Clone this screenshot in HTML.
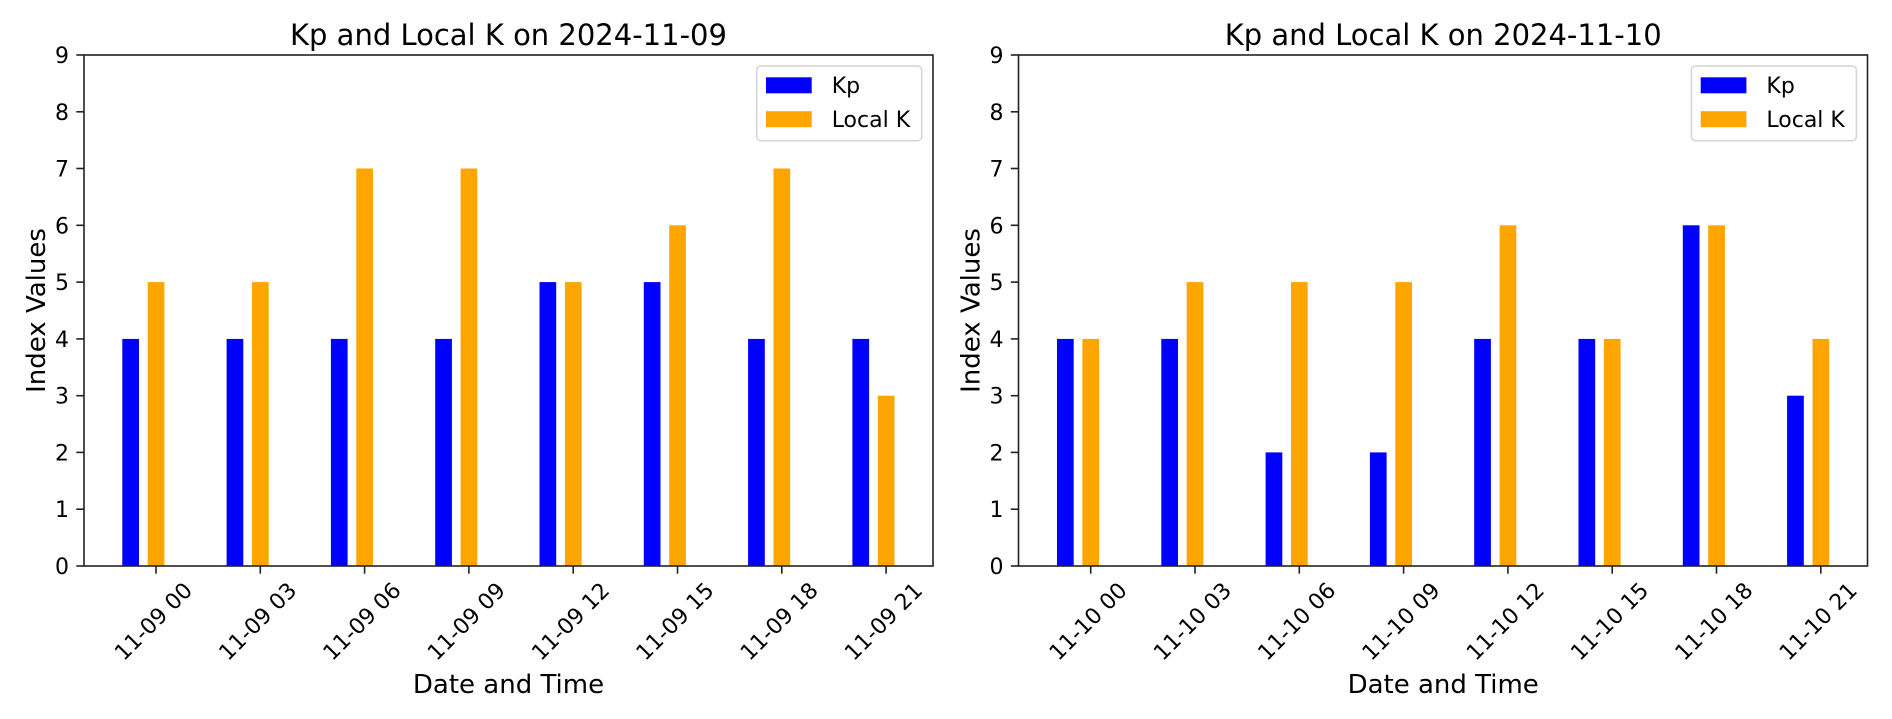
<!DOCTYPE html>
<html>
<head>
<meta charset="utf-8">
<style>
  html,body{margin:0;padding:0;background:#fff;}
  svg{display:block;}
  text{font-family:"DejaVu Sans","Liberation Sans",sans-serif;fill:#000;}
</style>
</head>
<body>
<svg width="1892" height="719" viewBox="0 0 1892 719" xmlns="http://www.w3.org/2000/svg">
<rect width="1892" height="719" fill="#fff"/>

<!-- ================= LEFT PLOT ================= -->
<g>
  <!-- bars -->
  <g fill="#0000ff">
    <rect x="122.3" y="338.9" width="16.7" height="227.1"/>
    <rect x="226.6" y="338.9" width="16.7" height="227.1"/>
    <rect x="330.9" y="338.9" width="16.7" height="227.1"/>
    <rect x="435.2" y="338.9" width="16.7" height="227.1"/>
    <rect x="539.5" y="282.1" width="16.7" height="283.9"/>
    <rect x="643.8" y="282.1" width="16.7" height="283.9"/>
    <rect x="748.1" y="338.9" width="16.7" height="227.1"/>
    <rect x="852.4" y="338.9" width="16.7" height="227.1"/>
  </g>
  <g fill="#ffa500">
    <rect x="147.7" y="282.1" width="16.7" height="283.9"/>
    <rect x="252.0" y="282.1" width="16.7" height="283.9"/>
    <rect x="356.3" y="168.5" width="16.7" height="397.5"/>
    <rect x="460.6" y="168.5" width="16.7" height="397.5"/>
    <rect x="564.9" y="282.1" width="16.7" height="283.9"/>
    <rect x="669.2" y="225.3" width="16.7" height="340.7"/>
    <rect x="773.5" y="168.5" width="16.7" height="397.5"/>
    <rect x="877.8" y="395.7" width="16.7" height="170.3"/>
  </g>
  <!-- spines -->
  <rect x="84" y="55" width="849" height="511" fill="none" stroke="#222" stroke-width="1.6"/>
  <!-- y ticks -->
  <g stroke="#222" stroke-width="1.6">
    <line x1="76.3" y1="566" x2="84" y2="566"/>
    <line x1="76.3" y1="509.2" x2="84" y2="509.2"/>
    <line x1="76.3" y1="452.4" x2="84" y2="452.4"/>
    <line x1="76.3" y1="395.7" x2="84" y2="395.7"/>
    <line x1="76.3" y1="338.9" x2="84" y2="338.9"/>
    <line x1="76.3" y1="282.1" x2="84" y2="282.1"/>
    <line x1="76.3" y1="225.3" x2="84" y2="225.3"/>
    <line x1="76.3" y1="168.5" x2="84" y2="168.5"/>
    <line x1="76.3" y1="111.8" x2="84" y2="111.8"/>
    <line x1="76.3" y1="55" x2="84" y2="55"/>
  </g>
  <g font-size="22" text-anchor="end">
    <text x="69" y="574">0</text>
    <text x="69" y="517.2">1</text>
    <text x="69" y="460.4">2</text>
    <text x="69" y="403.7">3</text>
    <text x="69" y="346.9">4</text>
    <text x="69" y="290.1">5</text>
    <text x="69" y="233.3">6</text>
    <text x="69" y="176.5">7</text>
    <text x="69" y="119.8">8</text>
    <text x="69" y="63">9</text>
  </g>
  <!-- x ticks -->
  <g stroke="#222" stroke-width="1.6">
    <line x1="156" y1="566" x2="156" y2="573.7"/>
    <line x1="260.3" y1="566" x2="260.3" y2="573.7"/>
    <line x1="364.6" y1="566" x2="364.6" y2="573.7"/>
    <line x1="468.9" y1="566" x2="468.9" y2="573.7"/>
    <line x1="573.2" y1="566" x2="573.2" y2="573.7"/>
    <line x1="677.5" y1="566" x2="677.5" y2="573.7"/>
    <line x1="781.8" y1="566" x2="781.8" y2="573.7"/>
    <line x1="886.1" y1="566" x2="886.1" y2="573.7"/>
  </g>
  <g font-size="22" text-anchor="middle">
    <text transform="translate(153,621) rotate(-45)" x="0" y="8">11-09 00</text>
    <text transform="translate(257.3,621) rotate(-45)" x="0" y="8">11-09 03</text>
    <text transform="translate(361.6,621) rotate(-45)" x="0" y="8">11-09 06</text>
    <text transform="translate(465.9,621) rotate(-45)" x="0" y="8">11-09 09</text>
    <text transform="translate(570.2,621) rotate(-45)" x="0" y="8">11-09 12</text>
    <text transform="translate(674.5,621) rotate(-45)" x="0" y="8">11-09 15</text>
    <text transform="translate(778.8,621) rotate(-45)" x="0" y="8">11-09 18</text>
    <text transform="translate(883.1,621) rotate(-45)" x="0" y="8">11-09 21</text>
  </g>
  <!-- labels -->
  <text x="508.5" y="45" font-size="29" text-anchor="middle">Kp and Local K on 2024-11-09</text>
  <text x="508.5" y="693" font-size="26" text-anchor="middle">Date and Time</text>
  <text transform="translate(45,310.5) rotate(-90)" font-size="26" text-anchor="middle">Index Values</text>
  <!-- legend -->
  <rect x="756.7" y="66" width="165" height="74.7" rx="4" fill="#fff" stroke="#d4d4d4" stroke-width="1.5"/>
  <rect x="766" y="77.3" width="45.7" height="16" fill="#0000ff"/>
  <rect x="766" y="111.2" width="45.7" height="16" fill="#ffa500"/>
  <text x="831.7" y="93" font-size="22">Kp</text>
  <text x="831.7" y="127" font-size="22">Local K</text>
</g>

<!-- ================= RIGHT PLOT ================= -->
<g>
  <g fill="#0000ff">
    <rect x="1057.0" y="338.9" width="16.7" height="227.1"/>
    <rect x="1161.3" y="338.9" width="16.7" height="227.1"/>
    <rect x="1265.6" y="452.4" width="16.7" height="113.6"/>
    <rect x="1369.9" y="452.4" width="16.7" height="113.6"/>
    <rect x="1474.2" y="338.9" width="16.7" height="227.1"/>
    <rect x="1578.5" y="338.9" width="16.7" height="227.1"/>
    <rect x="1682.8" y="225.3" width="16.7" height="340.7"/>
    <rect x="1787.1" y="395.7" width="16.7" height="170.3"/>
  </g>
  <g fill="#ffa500">
    <rect x="1082.4" y="338.9" width="16.7" height="227.1"/>
    <rect x="1186.7" y="282.1" width="16.7" height="283.9"/>
    <rect x="1291.0" y="282.1" width="16.7" height="283.9"/>
    <rect x="1395.3" y="282.1" width="16.7" height="283.9"/>
    <rect x="1499.6" y="225.3" width="16.7" height="340.7"/>
    <rect x="1603.9" y="338.9" width="16.7" height="227.1"/>
    <rect x="1708.2" y="225.3" width="16.7" height="340.7"/>
    <rect x="1812.5" y="338.9" width="16.7" height="227.1"/>
  </g>
  <rect x="1018.5" y="55" width="849" height="511" fill="none" stroke="#222" stroke-width="1.6"/>
  <g stroke="#222" stroke-width="1.6">
    <line x1="1010.8" y1="566" x2="1018.5" y2="566"/>
    <line x1="1010.8" y1="509.2" x2="1018.5" y2="509.2"/>
    <line x1="1010.8" y1="452.4" x2="1018.5" y2="452.4"/>
    <line x1="1010.8" y1="395.7" x2="1018.5" y2="395.7"/>
    <line x1="1010.8" y1="338.9" x2="1018.5" y2="338.9"/>
    <line x1="1010.8" y1="282.1" x2="1018.5" y2="282.1"/>
    <line x1="1010.8" y1="225.3" x2="1018.5" y2="225.3"/>
    <line x1="1010.8" y1="168.5" x2="1018.5" y2="168.5"/>
    <line x1="1010.8" y1="111.8" x2="1018.5" y2="111.8"/>
    <line x1="1010.8" y1="55" x2="1018.5" y2="55"/>
  </g>
  <g font-size="22" text-anchor="end">
    <text x="1003.5" y="574">0</text>
    <text x="1003.5" y="517.2">1</text>
    <text x="1003.5" y="460.4">2</text>
    <text x="1003.5" y="403.7">3</text>
    <text x="1003.5" y="346.9">4</text>
    <text x="1003.5" y="290.1">5</text>
    <text x="1003.5" y="233.3">6</text>
    <text x="1003.5" y="176.5">7</text>
    <text x="1003.5" y="119.8">8</text>
    <text x="1003.5" y="63">9</text>
  </g>
  <g stroke="#222" stroke-width="1.6">
    <line x1="1090.7" y1="566" x2="1090.7" y2="573.7"/>
    <line x1="1195.0" y1="566" x2="1195.0" y2="573.7"/>
    <line x1="1299.3" y1="566" x2="1299.3" y2="573.7"/>
    <line x1="1403.6" y1="566" x2="1403.6" y2="573.7"/>
    <line x1="1507.9" y1="566" x2="1507.9" y2="573.7"/>
    <line x1="1612.2" y1="566" x2="1612.2" y2="573.7"/>
    <line x1="1716.5" y1="566" x2="1716.5" y2="573.7"/>
    <line x1="1820.8" y1="566" x2="1820.8" y2="573.7"/>
  </g>
  <g font-size="22" text-anchor="middle">
    <text transform="translate(1087.7,621) rotate(-45)" x="0" y="8">11-10 00</text>
    <text transform="translate(1192.0,621) rotate(-45)" x="0" y="8">11-10 03</text>
    <text transform="translate(1296.3,621) rotate(-45)" x="0" y="8">11-10 06</text>
    <text transform="translate(1400.6,621) rotate(-45)" x="0" y="8">11-10 09</text>
    <text transform="translate(1504.9,621) rotate(-45)" x="0" y="8">11-10 12</text>
    <text transform="translate(1609.2,621) rotate(-45)" x="0" y="8">11-10 15</text>
    <text transform="translate(1713.5,621) rotate(-45)" x="0" y="8">11-10 18</text>
    <text transform="translate(1817.8,621) rotate(-45)" x="0" y="8">11-10 21</text>
  </g>
  <text x="1443.2" y="45" font-size="29" text-anchor="middle">Kp and Local K on 2024-11-10</text>
  <text x="1443.2" y="693" font-size="26" text-anchor="middle">Date and Time</text>
  <text transform="translate(979.7,310.5) rotate(-90)" font-size="26" text-anchor="middle">Index Values</text>
  <rect x="1691.4" y="66" width="165" height="74.7" rx="4" fill="#fff" stroke="#d4d4d4" stroke-width="1.5"/>
  <rect x="1700.7" y="77.3" width="45.7" height="16" fill="#0000ff"/>
  <rect x="1700.7" y="111.2" width="45.7" height="16" fill="#ffa500"/>
  <text x="1766.4" y="93" font-size="22">Kp</text>
  <text x="1766.4" y="127" font-size="22">Local K</text>
</g>
</svg>
</body>
</html>
